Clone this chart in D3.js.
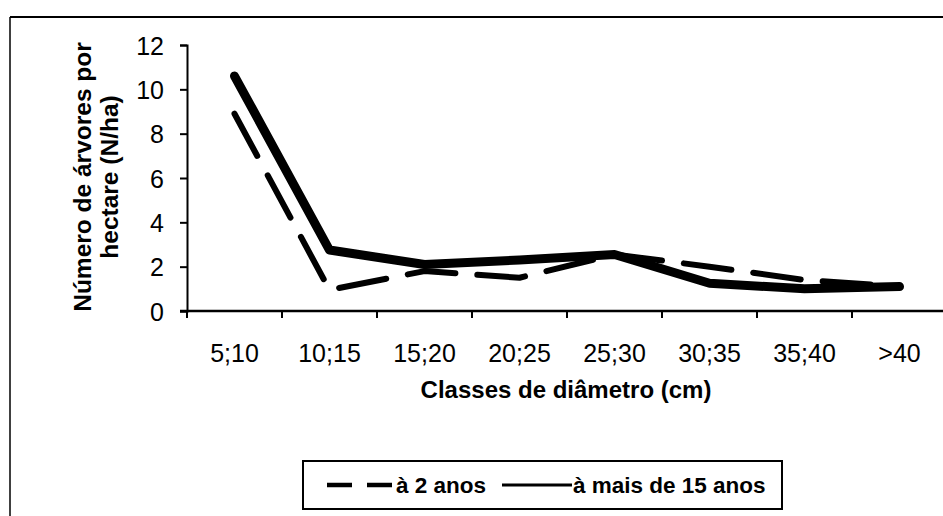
<!DOCTYPE html>
<html>
<head>
<meta charset="utf-8">
<script src="https://cdn.jsdelivr.net/npm/d3@7"></script>
<style>
  html, body { margin: 0; padding: 0; background: #fff; }
  svg { display: block; }
  text { font-family: "Liberation Sans", Arial, sans-serif; fill: #000; }
</style>
</head>
<body>
<svg id="chart" width="943" height="516"></svg>
<script>
const categories = ["5;10", "10;15", "15;20", "20;25", "25;30", "30;35", "35;40", ">40"];
const dois_anos = [8.9, 0.95, 1.8, 1.5, 2.55, 2.0, 1.4, 1.1];
const mais15_anos = [10.6, 2.75, 2.1, 2.3, 2.55, 1.25, 1.0, 1.1];
const yTicks = [0, 2, 4, 6, 8, 10, 12];
const seriesNames = ["à 2 anos", "à mais de 15 anos"];
const xTitle = "Classes de diâmetro (cm)";
const yTitle = ["Número de árvores por", "hectare (N/ha)"];

const svg = d3.select("#chart");

// outer frame (top and left edges visible)
svg.append("line").attr("x1", 10).attr("x2", 943).attr("y1", 17).attr("y2", 17)
  .attr("stroke", "#000").attr("stroke-width", 2);
svg.append("line").attr("x1", 10).attr("x2", 10).attr("y1", 17).attr("y2", 516)
  .attr("stroke", "#000").attr("stroke-width", 1.5);

const x = d3.scaleBand().domain(categories).range([187, 947]).padding(0);
const y = d3.scaleLinear().domain([0, 12]).range([311, 45]);
const cx = c => x(c) + x.bandwidth() / 2;

// Y axis
const yAxis = svg.append("g").attr("transform", "translate(187,0)")
  .call(d3.axisLeft(y).tickValues(yTicks).tickSize(7).tickPadding(16).tickFormat(d3.format("d")));
yAxis.select(".domain").attr("stroke", "#000").attr("stroke-width", 2);
yAxis.selectAll(".tick line").attr("stroke", "#000").attr("stroke-width", 2);
yAxis.selectAll(".tick text").style("font-size", "25px").attr("dy", "0.36em");

// X axis line
svg.append("line").attr("x1", 180).attr("x2", 943).attr("y1", 311).attr("y2", 311)
  .attr("stroke", "#000").attr("stroke-width", 2.5);
// X ticks at band boundaries
const bounds = categories.map(c => x(c));
svg.append("g").selectAll("line").data(bounds).join("line")
  .attr("x1", d => d).attr("x2", d => d).attr("y1", 311).attr("y2", 318)
  .attr("stroke", "#000").attr("stroke-width", 2);
// X tick labels
svg.append("g").selectAll("text").data(categories).join("text")
  .attr("x", d => cx(d)).attr("y", 362).attr("text-anchor", "middle")
  .style("font-size", "25px").text(d => d);

// X title
svg.append("text").attr("x", 566).attr("y", 398).attr("text-anchor", "middle")
  .style("font-size", "24px").style("font-weight", "bold").text(xTitle);

// Y title
const yt = svg.append("text").attr("transform", "translate(0,177) rotate(-90)")
  .attr("text-anchor", "middle").style("font-size", "24.5px").style("font-weight", "bold");
yt.append("tspan").attr("x", 0).attr("y", 91).text(yTitle[0]);
yt.append("tspan").attr("x", 0).attr("y", 118).text(yTitle[1]);

// lines
const line = d3.line().x((d, i) => cx(categories[i])).y(d => y(d));
svg.append("path").datum(dois_anos).attr("d", line)
  .attr("fill", "none").attr("stroke", "#000").attr("stroke-width", 6)
  .attr("stroke-dasharray", "48,22").attr("stroke-linecap", "round").attr("stroke-linejoin", "round");
svg.append("path").datum(mais15_anos).attr("d", line)
  .attr("fill", "none").attr("stroke", "#000").attr("stroke-width", 9)
  .attr("stroke-linecap", "round").attr("stroke-linejoin", "round");

// Legend
const lg = svg.append("g");
lg.append("rect").attr("x", 303).attr("y", 461).attr("width", 479).attr("height", 48)
  .attr("fill", "#fff").attr("stroke", "#000").attr("stroke-width", 2);
lg.append("line").attr("x1", 327).attr("x2", 395).attr("y1", 485).attr("y2", 485)
  .attr("stroke", "#000").attr("stroke-width", 4.5).attr("stroke-dasharray", "25,15");
lg.append("text").attr("x", 396).attr("y", 493).style("font-size", "22.5px").style("font-weight", "bold")
  .text(seriesNames[0]);
lg.append("line").attr("x1", 502).attr("x2", 572).attr("y1", 485).attr("y2", 485)
  .attr("stroke", "#000").attr("stroke-width", 3);
lg.append("text").attr("x", 573).attr("y", 493).style("font-size", "22.5px").style("font-weight", "bold")
  .text(seriesNames[1]);
</script>
</body>
</html>
